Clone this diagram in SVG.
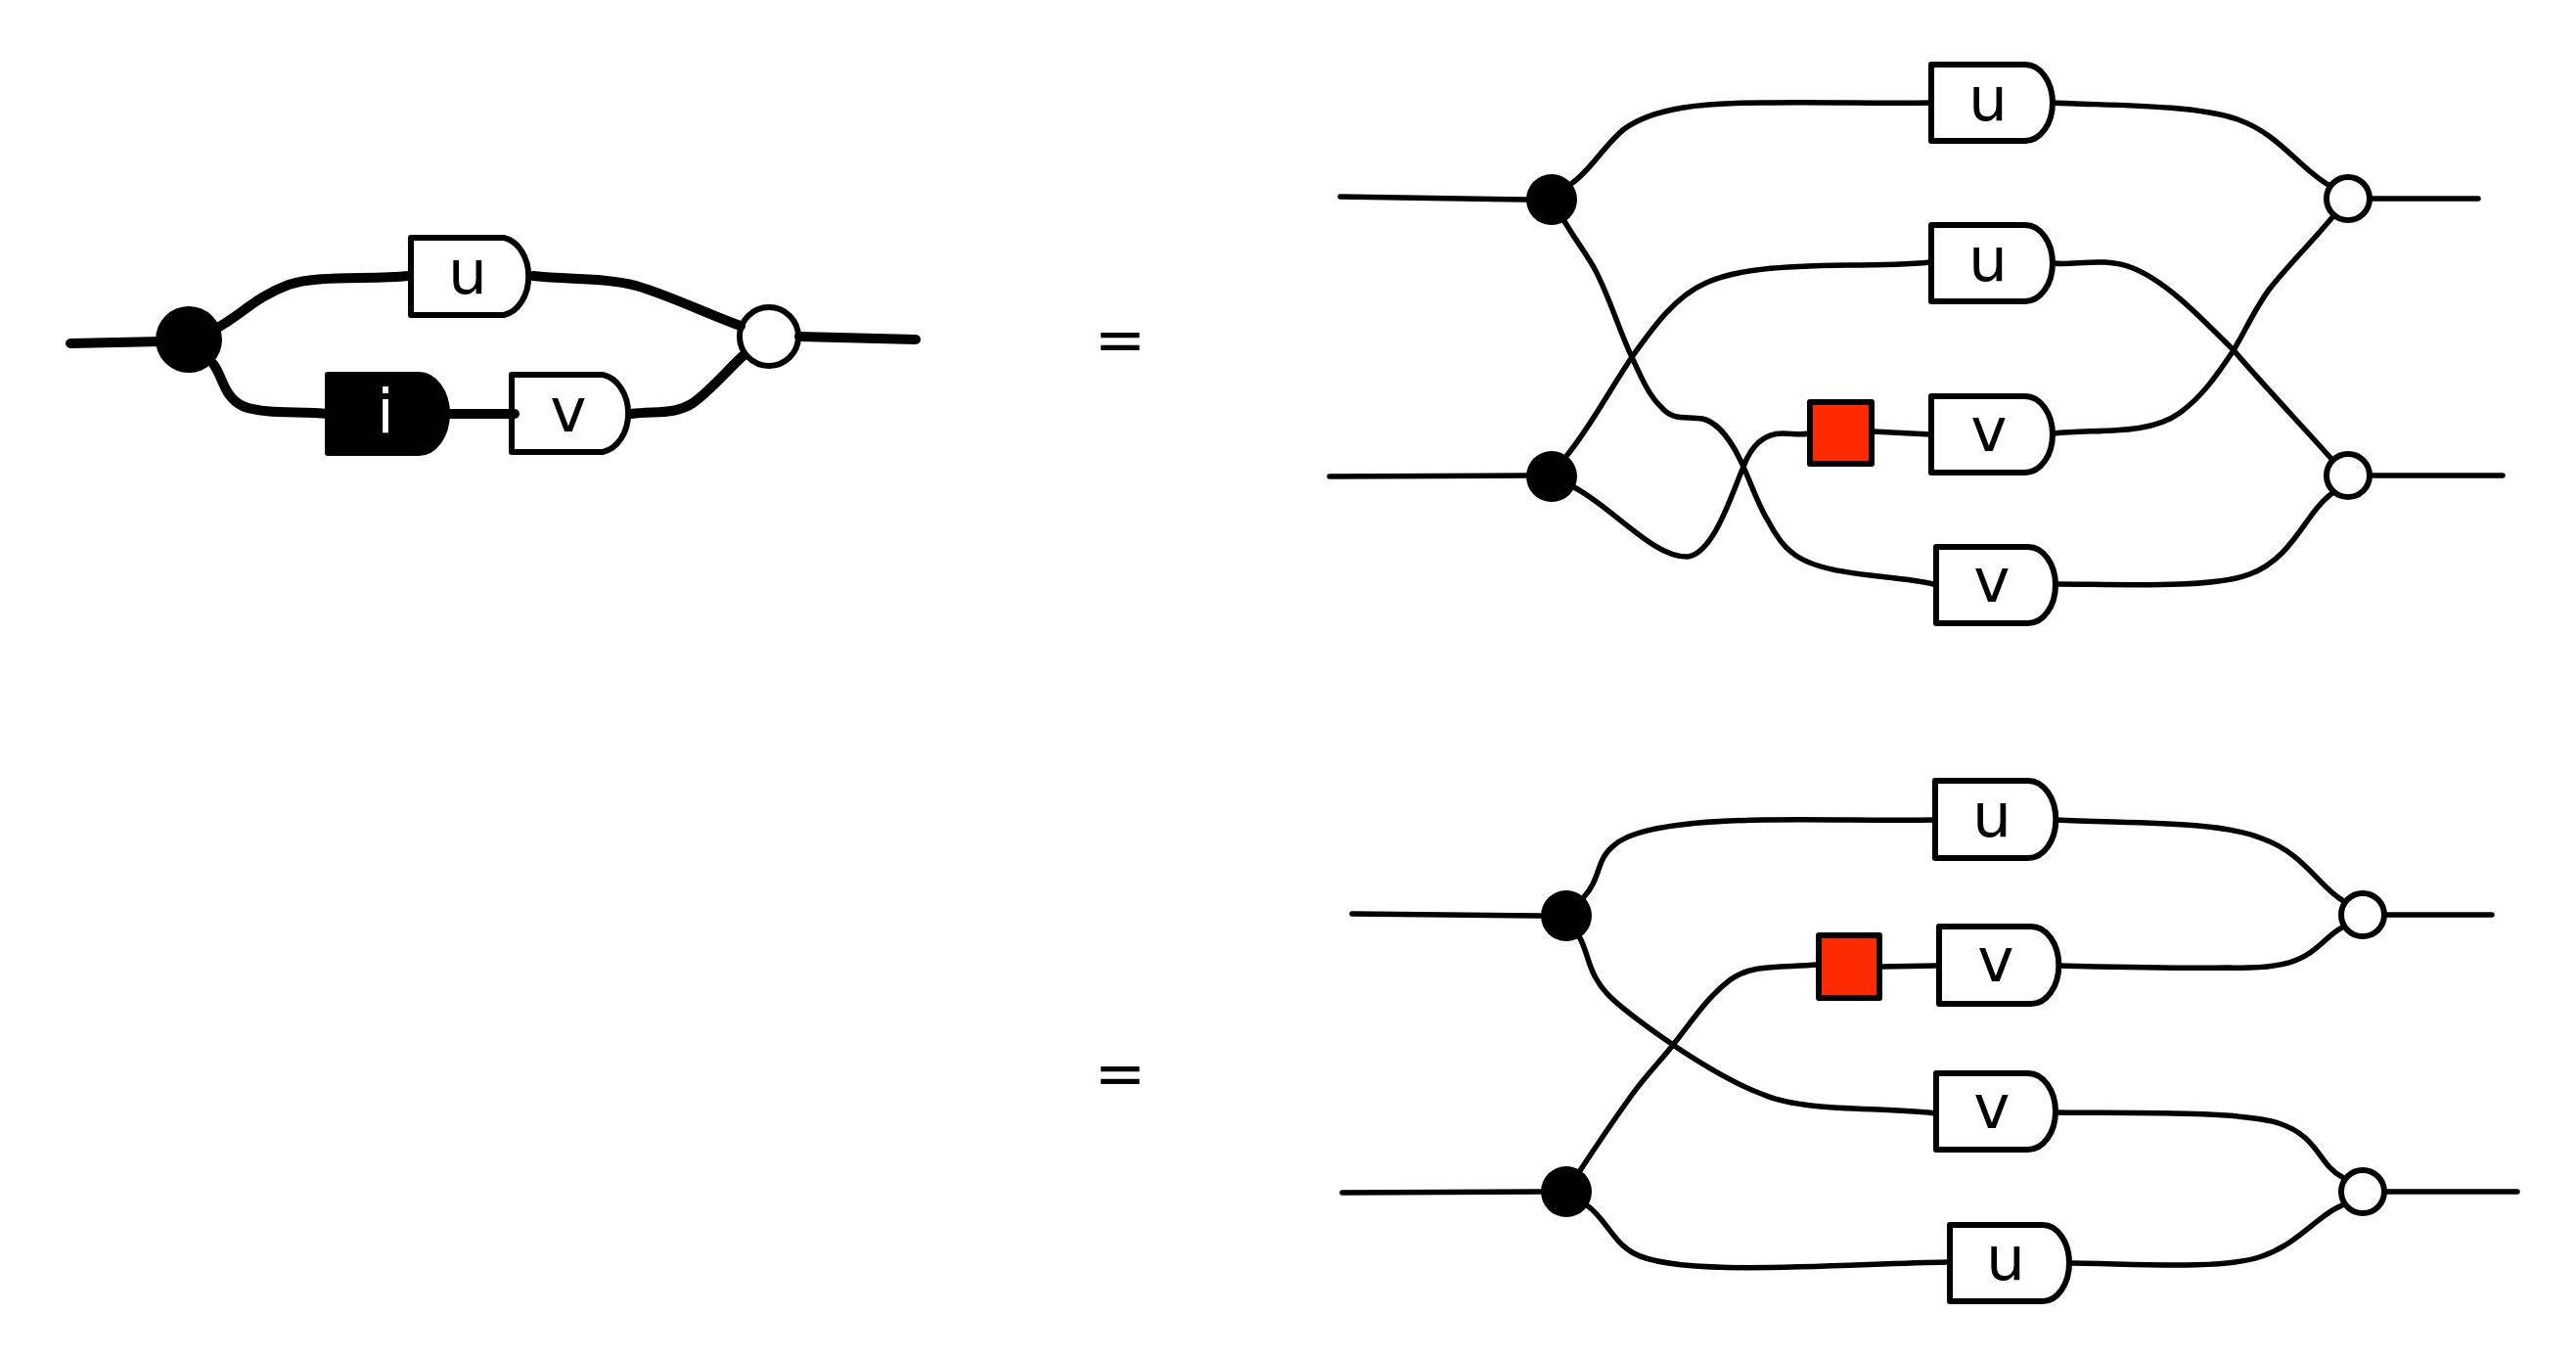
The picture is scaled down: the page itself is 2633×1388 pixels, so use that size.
<svg xmlns="http://www.w3.org/2000/svg" width="2633" height="1388" viewBox="0 0 2633 1388">
<style>
.gate{fill:#fff;stroke:#000;stroke-width:6;stroke-linejoin:round}
.gate.k{fill:#000}
.dot{fill:#000}
.hole{fill:#fff;stroke:#000;stroke-width:6}
.red{fill:#ff2a00;stroke:#000;stroke-width:6;stroke-linejoin:round}
.lbl{font-family:"DejaVu Sans",sans-serif;font-size:63px;text-anchor:middle;fill:#000}
.lbl.w{fill:#fff}
.wires path{fill:none;stroke:#000;stroke-linecap:round}
.thin path{stroke-width:5.5}
.thick path{stroke-width:10}
</style>
<rect width="2633" height="1388" fill="#fff"/>

<g id="left-black"><circle class="dot" cx="193" cy="347" r="34"/></g>
<g id="left-white"><circle class="hole" cx="786" cy="344" r="30"/></g>
<g id="left-u"><path class="gate" d="M420,243H515A30,40 0 0 1 515,322H420Z"/><text class="lbl" x="478" y="300">u</text></g>
<g id="left-i"><path class="gate k" d="M335,383H428A29,40 0 0 1 428,463H335Z"/><text class="lbl w" x="394" y="442">i</text></g>
<g id="left-v"><path class="gate" d="M523,383H616A31,40 0 0 1 616,462H523Z"/><text class="lbl" x="581" y="441">v</text></g>

<g id="top-black-1"><circle class="dot" cx="1586" cy="204" r="26"/></g>
<g id="top-black-2"><circle class="dot" cx="1586" cy="487" r="26"/></g>
<g id="top-white-1"><circle class="hole" cx="2400" cy="203" r="22"/></g>
<g id="top-white-2"><circle class="hole" cx="2400" cy="486" r="22"/></g>
<g id="top-u1"><path class="gate" d="M1974,66H2070A28,39 0 0 1 2070,144H1974Z"/><text class="lbl" x="2032" y="123">u</text></g>
<g id="top-u2"><path class="gate" d="M1974,230H2070A28,39 0 0 1 2070,308H1974Z"/><text class="lbl" x="2032" y="287">u</text></g>
<g id="top-v1"><path class="gate" d="M1974,405H2070A28,39 0 0 1 2070,483H1974Z"/><text class="lbl" x="2033" y="461">v</text></g>
<g id="top-v2"><path class="gate" d="M1979,559H2073A28,39 0 0 1 2073,637H1979Z"/><text class="lbl" x="2036" y="615">v</text></g>
<g id="top-red"><rect class="red" x="1850" y="411" width="63" height="63"/></g>

<g id="bot-black-1"><circle class="dot" cx="1601" cy="936" r="26"/></g>
<g id="bot-black-2"><circle class="dot" cx="1601" cy="1218" r="26"/></g>
<g id="bot-white-1"><circle class="hole" cx="2415" cy="935" r="22"/></g>
<g id="bot-white-2"><circle class="hole" cx="2415" cy="1218" r="22"/></g>
<g id="bot-u1"><path class="gate" d="M1978,798H2073A28,39 0 0 1 2073,877H1978Z"/><text class="lbl" x="2036" y="855">u</text></g>
<g id="bot-v1"><path class="gate" d="M1982,947H2076A28,39 0 0 1 2076,1026H1982Z"/><text class="lbl" x="2040" y="1003">v</text></g>
<g id="bot-v2"><path class="gate" d="M1979,1097H2073A28,39 0 0 1 2073,1175H1979Z"/><text class="lbl" x="2036" y="1153">v</text></g>
<g id="bot-u2"><path class="gate" d="M1993,1252H2088A27,39 0 0 1 2088,1330H1993Z"/><text class="lbl" x="2050" y="1308">u</text></g>
<g id="bot-red"><rect class="red" x="1859" y="956" width="62" height="64"/></g>

<text id="eq-1" class="lbl" x="1145" y="369">=</text>
<text id="eq-2" class="lbl" x="1145" y="1119">=</text>

<g id="connectors" class="wires">
<g class="thick">
<path d="M72,351L165,349"/>
<path d="M222,335C245,323 262,303 295,291C325,281 375,286 418,282"/>
<path d="M218,372C228,385 228,405 248,415C270,424 305,420 335,423"/>
<path d="M545,282C585,286 620,284 650,292C685,302 725,322 757,333"/>
<path d="M459,423H526"/>
<path d="M645,423C670,420 690,424 708,412C725,400 742,380 759,364"/>
<path d="M817,344L936,347"/>
</g>
<g class="thin">
<path d="M1370,201L1561,204"/>
<path d="M1359,487L1561,486"/>
<path d="M1607,187C1625,175 1640,148 1660,132C1690,110 1740,105 1803,105C1860,104 1920,106 1973,105"/>
<path d="M1599,226C1610,245 1620,257 1630,275C1645,303 1655,338 1668,365C1678,387 1686,405 1698,416C1710,431 1725,425 1740,428C1755,431 1770,450 1782,477C1790,495 1798,518 1807,532C1818,553 1825,560 1832,565C1862,590 1935,587 1976,597"/>
<path d="M1602,465C1625,437 1645,399 1668,365C1690,334 1712,303 1744,289C1775,275 1820,272 1887,271C1915,271 1945,271 1973,268"/>
<path d="M1609,498C1650,520 1690,570 1725,569C1752,565 1770,505 1782,477C1792,450 1808,443 1822,443C1832,443 1840,445 1849,443"/>
<path d="M1914,441L1973,444"/>
<path d="M2099,105C2150,108 2240,106 2287,122C2330,137 2350,172 2380,189"/>
<path d="M2099,269C2120,272 2150,262 2180,274C2215,288 2250,325 2283,358C2315,395 2350,432 2384,470"/>
<path d="M2099,443C2140,438 2195,446 2228,422C2250,406 2265,385 2283,358C2295,338 2305,315 2320,295C2340,270 2365,245 2384,222"/>
<path d="M2102,597C2160,597 2260,602 2299,587C2345,570 2355,525 2384,504"/>
<path d="M1382,934L1575,936"/>
<path d="M1372,1219L1575,1218"/>
<path d="M1618,918C1638,896 1630,879 1651,863C1675,843 1745,839 1803,838C1860,837 1920,839 1978,838"/>
<path d="M1614,957C1625,976 1622,996 1647,1020C1665,1037 1690,1054 1710,1068C1740,1088 1775,1109 1803,1119C1845,1137 1925,1131 1978,1138"/>
<path d="M1614,1198C1635,1166 1650,1144 1668,1119C1685,1096 1695,1087 1710,1068C1730,1043 1745,1019 1769,1001C1790,986 1815,989 1858,986"/>
<path d="M1923,988L1980,987"/>
<path d="M1622,1232C1640,1244 1648,1269 1670,1281C1715,1306 1880,1292 1990,1290"/>
<path d="M2102,838C2170,842 2265,838 2312,857C2355,872 2370,906 2394,920"/>
<path d="M2106,987C2150,988 2220,990 2278,989C2310,990 2335,987 2350,980C2370,972 2378,956 2394,948"/>
<path d="M2102,1137C2170,1138 2290,1135 2329,1148C2370,1161 2370,1191 2394,1203"/>
<path d="M2118,1291C2170,1291 2270,1299 2312,1284C2350,1271 2370,1241 2394,1232"/>
<path d="M2424,203H2533"/>
<path d="M2424,486H2558"/>
<path d="M2439,935H2547"/>
<path d="M2439,1218H2573"/>
</g>
</g>
</svg>
